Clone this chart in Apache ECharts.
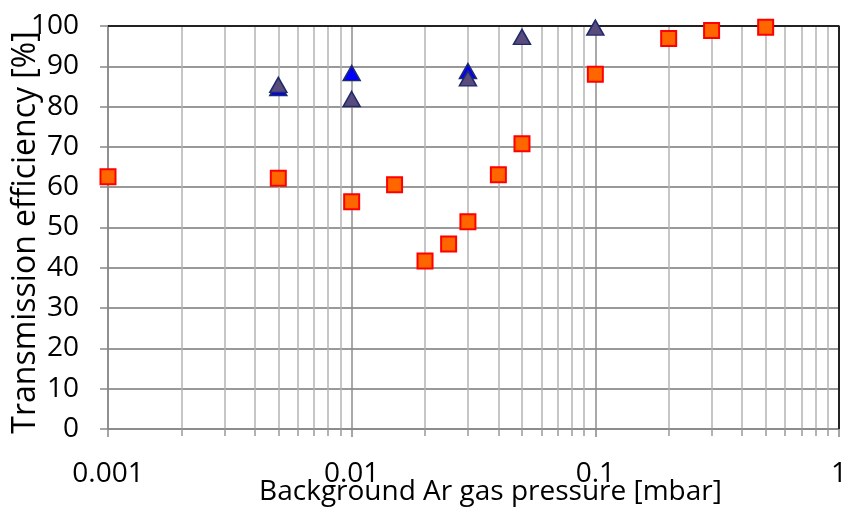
<!DOCTYPE html>
<html lang="en">
<head>
<meta charset="UTF-8">
<title>Transmission efficiency</title>
<script src="https://cdn.jsdelivr.net/npm/echarts@6/dist/echarts.min.js"></script>
</head>
<body style="margin:0">
<div id="main" style="width:849px;height:514px;"></div>
<script type="text/javascript">
// orange squares
var sqX = [0.001, 0.005, 0.01, 0.015, 0.02, 0.025, 0.03, 0.04, 0.05, 0.1, 0.2, 0.3, 0.5];
var sqY = [62.6, 62.2, 56.4, 60.6, 41.7, 45.9, 51.4, 63.1, 70.8, 88.0, 96.9, 98.9, 99.7];
// bright blue triangles
var blueX = [0.005, 0.01, 0.03];
var blueY = [84.6, 88.3, 88.8];
// dark triangles
var darkX = [0.005, 0.01, 0.03, 0.05, 0.1];
var darkY = [85.4, 81.9, 87.0, 97.3, 99.6];

var font = 'Open Sans';
var myChart = echarts.init(document.getElementById('main'));

function pts(xs, ys) {
    return xs.map(function (x, i) { return [x, ys[i]]; });
}

var option = {
    animation: false,
    grid: { left: 108, right: 10, top: 26, bottom: 85, outerBoundsMode: 'none', containLabel: false },
    xAxis: {
        type: 'log',
        logBase: 10,
        min: 0.001,
        max: 1,
        name: 'Background Ar gas pressure [mbar]',
        nameLocation: 'middle',
        nameGap: 49,
        nameMoveOverlap: false,
        nameTextStyle: { fontFamily: font, fontSize: 28, color: '#000', padding: [0, 0, 0, 34] },
        axisLine: { lineStyle: { color: '#888', width: 1.5 } },
        axisTick: { show: true, length: 8, lineStyle: { color: '#888', width: 1.5 } },
        minorTick: { show: true, splitNumber: 9, length: 7, lineStyle: { color: '#999', width: 1.5 } },
        axisLabel: {
            fontFamily: font, fontSize: 28, color: '#000', margin: 31,
            formatter: function (v) { return String(v); }
        },
        splitLine: { show: true, lineStyle: { color: '#8c8c8c', width: 1.5 } },
        minorSplitLine: { show: true, lineStyle: { color: '#b4b4b4', width: 1.5 } }
    },
    yAxis: {
        type: 'value',
        min: 0,
        max: 100,
        interval: 10,
        name: 'Transmission efficiency [%]',
        nameLocation: 'middle',
        nameGap: 66,
        nameMoveOverlap: false,
        nameTextStyle: { fontFamily: font, fontSize: 32, color: '#000', padding: [0, 10, 0, 0] },
        axisLine: { show: true, lineStyle: { color: '#888', width: 1.5 } },
        axisTick: { show: true, length: 8, lineStyle: { color: '#888', width: 1.5 } },
        axisLabel: { fontFamily: font, fontSize: 28, color: '#000', margin: 29 },
        splitLine: { show: true, lineStyle: { color: '#999', width: 1.8 } }
    },
    series: [
        {
            type: 'scatter',
            data: pts(sqX, sqY),
            symbol: 'rect',
            symbolSize: 15,
            itemStyle: { color: '#ff6600', borderColor: '#ff0000', borderWidth: 2, opacity: 1 },
            z: 3
        },
        {
            type: 'scatter',
            data: pts(blueX, blueY),
            symbol: 'triangle',
            symbolSize: [17, 15],
            itemStyle: { color: '#0000ff', borderColor: '#1f2a6b', borderWidth: 1.5, opacity: 1 },
            z: 4
        },
        {
            type: 'scatter',
            data: pts(darkX, darkY),
            symbol: 'triangle',
            symbolSize: [17, 15],
            itemStyle: { color: '#594c7c', borderColor: '#1f2a6b', borderWidth: 1.5, opacity: 1 },
            z: 5
        },
        {
            // top and right frame
            type: 'line',
            data: [[0.001, 100], [1, 100], [1, 0]],
            symbol: 'none',
            silent: true,
            lineStyle: { color: '#222', width: 2 },
            z: 2
        }
    ]
};
myChart.setOption(option);
</script>
</body>
</html>
